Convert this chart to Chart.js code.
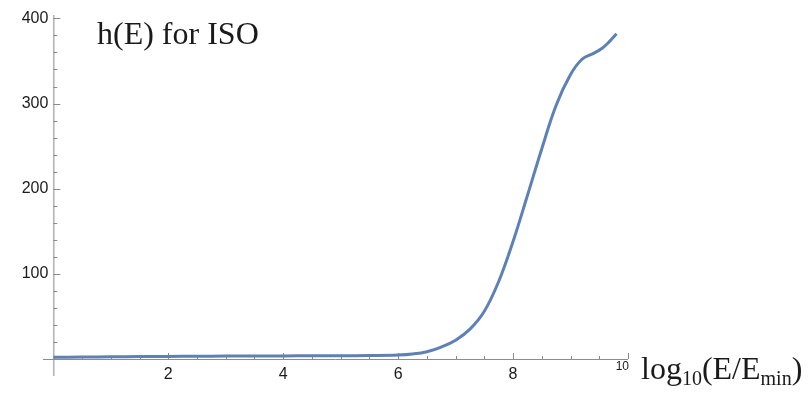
<!DOCTYPE html>
<html>
<head>
<meta charset="utf-8">
<script src="https://cdn.jsdelivr.net/npm/chart.js@4.4.1/dist/chart.umd.min.js"></script>
<style>
  html, body { margin: 0; padding: 0; background: #fff; }
  #wrap { width: 809px; height: 394px; }
</style>
</head>
<body>
<div id="wrap"><canvas id="myChart" width="809" height="394"></canvas></div>
<script>
// Datos: log10(E/Emin) -> h(E)
const logE = [0, 0.5, 1, 1.5, 2, 2.5, 3, 3.5, 4, 4.5, 5, 5.5, 6, 6.25, 6.5, 6.75, 7, 7.25, 7.5, 7.75, 8, 8.25, 8.5, 8.75, 9, 9.2, 9.4, 9.55, 9.68, 9.8];
const hValues = [2, 2.2, 2.5, 2.8, 3, 3.2, 3.4, 3.5, 3.6, 3.7, 3.8, 4, 4.6, 5.8, 8.5, 14, 22, 35, 56, 91, 138, 192, 247, 298, 334, 352, 359, 365, 373, 382];

// Marcas de los ejes
const xTickLabels = [2, 4, 6, 8, 10];
const yTickLabels = [100, 200, 300, 400];

const axisColor = '#8a8a8a';
const textColor = '#1a1a1a';

// Ejes al estilo Mathematica, cruzando en el origen
const axesPlugin = {
    id: 'axes',
    beforeDatasetsDraw(chart) {
        const c = chart.ctx;
        const xs = chart.scales.x, ys = chart.scales.y;
        const x0 = xs.getPixelForValue(0);
        const y0 = ys.getPixelForValue(0);
        c.save();
        c.strokeStyle = axisColor;
        c.lineWidth = 1;
        c.beginPath();
        // eje x
        c.moveTo(xs.left, y0 + 0.5);
        c.lineTo(xs.right, y0 + 0.5);
        // eje y
        c.moveTo(x0 + 0.5, ys.bottom);
        c.lineTo(x0 + 0.5, ys.top);
        // marcas del eje x (cada 0.5)
        for (let v = 0.5; v <= 10.001; v += 0.5) {
            const px = Math.round(xs.getPixelForValue(v)) + 0.5;
            const len = (Math.abs(v % 2) < 0.001) ? 6 : 3;
            c.moveTo(px, y0);
            c.lineTo(px, y0 - len);
        }
        // marcas del eje y (cada 20)
        for (let v = 20; v <= 400; v += 20) {
            const py = Math.round(ys.getPixelForValue(v)) + 0.5;
            const len = (v % 100 === 0) ? 7 : 4;
            c.moveTo(x0, py);
            c.lineTo(x0 + len, py);
        }
        c.stroke();
        c.restore();
    },
    afterDraw(chart) {
        const c = chart.ctx;
        const xs = chart.scales.x, ys = chart.scales.y;
        const x0 = xs.getPixelForValue(0);
        const y0 = ys.getPixelForValue(0);
        c.save();
        c.fillStyle = textColor;
        c.font = '16px "Liberation Sans", Arial, sans-serif';
        // etiquetas del eje y
        c.textAlign = 'right';
        c.textBaseline = 'middle';
        yTickLabels.forEach(v => {
            c.fillText(String(v), x0 - 5, ys.getPixelForValue(v));
        });
        // etiquetas del eje x
        c.textAlign = 'center';
        c.textBaseline = 'top';
        xTickLabels.forEach(v => {
            if (v === 10) return;
            c.fillText(String(v), xs.getPixelForValue(v), y0 + 8);
        });
        // el "10" sale más pequeño, pegado al título del eje
        c.font = '12px "Liberation Sans", Arial, sans-serif';
        c.textAlign = 'right';
        c.fillText('10', xs.getPixelForValue(10) + 1, y0 + 2);

        // título del eje x: log10(E/Emin)
        c.textAlign = 'left';
        c.textBaseline = 'alphabetic';
        const big = '32px "Liberation Serif", "Times New Roman", serif';
        const small = '20px "Liberation Serif", "Times New Roman", serif';
        let x = 641, base = 379;
        const parts = [
            ['log', big, 0], ['10', small, 6], ['(E/E', big, 0], ['min', small, 6], [')', big, 0]
        ];
        parts.forEach(p => {
            c.font = p[1];
            c.fillText(p[0], x, base + p[2]);
            x += c.measureText(p[0]).width;
        });

        // rótulo dentro del gráfico
        c.font = '32px "Liberation Serif", "Times New Roman", serif';
        c.fillText('h(E) for ISO', 97, 44);
        c.restore();
    }
};

const ctx = document.getElementById('myChart').getContext('2d');

const myChart = new Chart(ctx, {
    type: 'line',
    data: {
        datasets: [{
            label: 'h(E)',
            data: logE.map((v, i) => ({ x: v, y: hValues[i] })),
            borderColor: '#5E81B5',
            borderWidth: 3,
            pointRadius: 0,
            fill: false,
            tension: 0.4
        }]
    },
    options: {
        responsive: false,
        animation: false,
        layout: { padding: { left: 43, right: 181, top: 15, bottom: 18 } },
        scales: {
            x: { type: 'linear', min: -0.18, max: 10, display: false },
            y: { type: 'linear', min: -20, max: 404, display: false }
        },
        plugins: {
            legend: { display: false },
            tooltip: { enabled: false }
        }
    },
    plugins: [axesPlugin]
});
</script>
</body>
</html>
